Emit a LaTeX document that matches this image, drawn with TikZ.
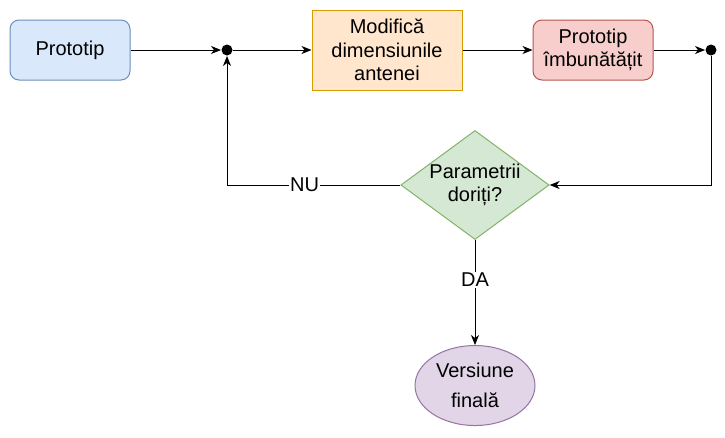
\documentclass[tikz,border=0pt]{standalone}
\usepackage{fontspec}
\setmainfont{Liberation Sans}
\usepackage{tikz}
\usetikzlibrary{arrows.meta,positioning,shapes.geometric}

\definecolor{blueF}{HTML}{DAE8FC}\definecolor{blueD}{HTML}{6C8EBF}
\definecolor{orangeF}{HTML}{FFE6CC}\definecolor{orangeD}{HTML}{D79B00}
\definecolor{redF}{HTML}{F8CECC}\definecolor{redD}{HTML}{B85450}
\definecolor{greenF}{HTML}{D5E8D4}\definecolor{greenD}{HTML}{82B366}
\definecolor{purpleF}{HTML}{E1D5E7}\definecolor{purpleD}{HTML}{9673A6}

\begin{document}
\begin{tikzpicture}[
  x=1pt, y=-1pt,
  font=\fontsize{20}{23.3}\selectfont,
  line width=1pt,
  box/.style={draw, align=center, inner sep=0pt,
              minimum width=120pt, minimum height=60pt},
  soft/.style={box, rounded corners=9pt},
  dot/.style={circle, fill=black, inner sep=0pt, minimum size=11pt},
  dec/.style={diamond, draw=greenD, fill=greenF, align=center,
              inner sep=0pt, aspect=1.36},
  term/.style={ellipse, draw=purpleD, fill=purpleF, align=center,
               inner sep=0pt, minimum width=120pt, minimum height=80pt},
  lbl/.style={fill=white, inner sep=1pt},
  ar/.style={-{Stealth[length=10pt, width=8pt, inset=3pt]}}
]
\useasboundingbox (0,0) rectangle (725,437);

\node[soft, draw=blueD, fill=blueF] (proto) at (70,50) {Prototip};
\node[dot, right=90.5pt of proto] (mergeA) {};
\node[box, draw=orangeD, fill=orangeF, right=78.5pt of mergeA,
      minimum width=150pt, minimum height=80pt] (modif)
     {Modifică\\dimensiunile\\antenei};
\node[soft, draw=redD, fill=redF, right=70pt of modif] (better)
     {Prototip\\îmbunătățit};
\node[dot, right=51.5pt of better] (mergeB) {};
\node[dec] (param) at (475,185) {Parametrii\\doriți?};
\node[term, below=105pt of param] (final) {Versiune\\[7pt]finală};

\draw[ar] (proto) -- (mergeA);
\draw[ar] (mergeA) -- (modif);
\draw[ar] (modif) -- (better);
\draw[ar] (better) -- (mergeB);
\draw[ar] (mergeB) |- (param.east);
\draw[ar] (param.west) -| node[lbl, pos=0.276] {NU} (mergeA);
\draw[ar] (param.south) -- node[lbl, pos=0.38] {DA} (final);
\end{tikzpicture}
\end{document}
